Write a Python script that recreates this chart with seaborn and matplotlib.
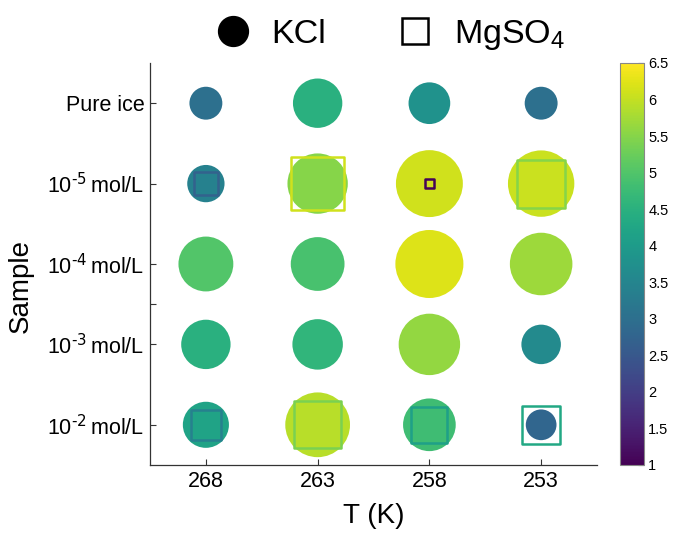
import numpy as np
import pandas as pd
import matplotlib
matplotlib.use("Agg")
import matplotlib.pyplot as plt
import seaborn as sns
from matplotlib.lines import Line2D
from matplotlib.ticker import FormatStrFormatter

# Data
temps = ["268", "263", "258", "253"]
samples = ["Pure ice", "10$^{\\text{-5}}\\,$mol/L", "10$^{\\text{-4}}\\,$mol/L",
           "10$^{\\text{-3}}\\,$mol/L", "10$^{\\text{-2}}\\,$mol/L"]

# KCl value per sample row (columns follow temps)
kcl_pure = [3.0, 4.5, 3.8, 3.0]
kcl_1e5 = [3.4, 5.5, 6.1, 6.05]
kcl_1e4 = [5.0, 4.9, 6.2, 5.7]
kcl_1e3 = [4.5, 4.6, 5.6, 3.6]
kcl_1e2 = [4.2, 5.9, 4.8, 2.8]

# MgSO4 only measured at two concentrations
mg_rows = [1, 4]
mg_1e5 = [2.7, 6.1, 1.05, 5.5]
mg_1e2 = [3.4, 5.4, 4.1, 4.3]

vmin, vmax = 1, 6.5

def to_long(rows, row_idx):
    recs = []
    for r, vals in zip(row_idx, rows):
        for c, v in enumerate(vals):
            recs.append({"x": c, "y": r, "val": v})
    return pd.DataFrame(recs)

kcl_df = to_long([kcl_pure, kcl_1e5, kcl_1e4, kcl_1e3, kcl_1e2], range(len(samples)))
mg_df = to_long([mg_1e5, mg_1e2], mg_rows)

sns.set_theme(style="ticks")
plt.rcParams["font.family"] = ["Liberation Sans", "DejaVu Sans"]
plt.rcParams["mathtext.default"] = "regular"
plt.rcParams["text.color"] = "black"
plt.rcParams["axes.labelcolor"] = "black"
plt.rcParams["xtick.labelcolor"] = "black"
plt.rcParams["ytick.labelcolor"] = "black"

fig = plt.figure(figsize=(6.73, 5.38), dpi=100)
ax = fig.add_axes([0.2229, 0.1357, 0.6642, 0.7472])
cax = fig.add_axes([0.9212, 0.1357, 0.0357, 0.7472])

# marker diameter grows with the value
circ_sizes = {v: (7.9 * v) ** 2 for v in kcl_df["val"]}
sq_sizes = {v: (6.3 * v) ** 2 for v in mg_df["val"]}

sns.scatterplot(data=kcl_df, x="x", y="y", hue="val", size="val", sizes=circ_sizes,
                palette="viridis", hue_norm=(vmin, vmax), marker="o",
                linewidth=0, legend=False, ax=ax)
sns.scatterplot(data=mg_df, x="x", y="y", hue="val", size="val", sizes=sq_sizes,
                palette="viridis", hue_norm=(vmin, vmax), marker="s",
                linewidth=1.8, legend=False, ax=ax, zorder=3)
sq = ax.collections[-1]
sq.set_edgecolors(sq.get_facecolors())
sq.set_facecolors("none")
sq.set_linewidth(1.8)

ax.set_xlim(-0.5, 3.5)
ax.set_ylim(4.5, -0.5)
ax.set_xticks(range(len(temps)))
ax.set_xticklabels(temps)
ax.set_yticks([0, 1, 2, 2.5, 3, 4])
ax.set_yticklabels(samples[:3] + [""] + samples[3:])
ax.tick_params(direction="in", length=4, width=0.8, labelsize=15.5, color="#333333", pad=4)
for side in ["top", "right"]:
    ax.spines[side].set_visible(False)
for side in ["left", "bottom"]:
    ax.spines[side].set_color("#333333")
    ax.spines[side].set_linewidth(0.9)

ax.set_xlabel("T (K)", fontsize=20, labelpad=8)
ax.set_ylabel("Sample", fontsize=20)
ax.yaxis.set_label_coords(-0.26, 0.445)

sm = plt.cm.ScalarMappable(norm=plt.Normalize(vmin, vmax), cmap="viridis")
cb = fig.colorbar(sm, cax=cax, ticks=np.arange(1, 6.51, 0.5))
cb.ax.yaxis.set_major_formatter(FormatStrFormatter("%g"))
cb.ax.tick_params(direction="in", length=4, width=0.8, labelsize=10.5, color="#333333", pad=3)
cb.outline.set_edgecolor("#888888")
cb.outline.set_linewidth(0.8)

handles = [
    Line2D([], [], marker="o", color="black", linestyle="none", markersize=21.5),
    Line2D([], [], marker="s", markerfacecolor="none", markeredgecolor="black",
           markeredgewidth=1.8, linestyle="none", markersize=19),
]
fig.legend(handles, ["KCl", "MgSO$_4$"], loc="center", bbox_to_anchor=(0.58, 0.935),
           ncol=2, frameon=False, fontsize=24.5, handlelength=1.0,
           handletextpad=0.65, columnspacing=2.1)

fig.savefig("out.png", dpi=100)
